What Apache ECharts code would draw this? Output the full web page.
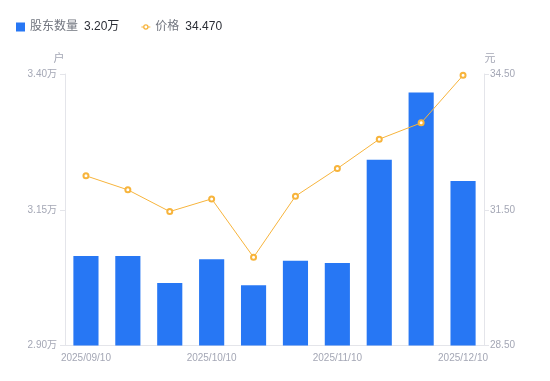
<!DOCTYPE html>
<html>
<head>
<meta charset="utf-8">
<script src="https://cdn.jsdelivr.net/npm/echarts@6/dist/echarts.min.js"></script>
<style>
html,body{margin:0;padding:0;background:#fff;}
#chart{width:550px;height:381px;}
</style>
</head>
<body>
<div id="chart"></div>
<script>
const categories = ['2025/09/10','2025/09/20','2025/09/30','2025/10/10','2025/10/20','2025/10/31','2025/11/10','2025/11/20','2025/11/30','2025/12/10'];
const holders = [3.065, 3.065, 3.015, 3.059, 3.011, 3.056, 3.052, 3.242, 3.366, 3.203];
const prices = [32.25, 31.94, 31.46, 31.74, 30.45, 31.80, 32.41, 33.06, 33.42, 34.47];
const leftTicks = {min: 2.90, max: 3.40, interval: 0.25};
const rightTicks = {min: 28.50, max: 34.50, interval: 3};

const FONT = '"Liberation Sans", "Noto Sans CJK SC", sans-serif';
const labelColor = '#a4a7b5';
const lineColor = '#e4e5ea';
const chart = echarts.init(document.getElementById('chart'), null, {renderer: 'canvas'});
const lastHolder = holders[holders.length - 1].toFixed(2) + '万';
const lastPrice = prices[prices.length - 1].toFixed(3);
const lineIcon = 'path://M0,4.5H3V5.5H0Z M7,4.5H10V5.5H7Z M5,2A3,3 0 1,1 4.99,2Z M5,3.4A1.6,1.6 0 1,0 5.01,3.4Z';

chart.setOption({
  animation: false,
  textStyle: {fontFamily: FONT},
  legend: {
    left: 11, top: 16,
    itemWidth: 9, itemHeight: 9, itemGap: 22,
    data: [{name: '股东数量', icon: 'rect'}, {name: '价格', icon: lineIcon, itemStyle: {color: '#f7b43c', borderWidth: 0}}],
    formatter: function (name) {
      const v = name === '股东数量' ? lastHolder : lastPrice;
      return '{n|' + name + '}{v|' + v + '}';
    },
    textStyle: {
      rich: {
        n: {fontSize: 12, color: '#71757f', fontFamily: FONT, padding: [0, 6, 0, 0]},
        v: {fontSize: 12, color: '#2b2e36', fontFamily: FONT}
      }
    }
  },
  grid: {left: 65, right: 66, top: 74, bottom: 35.5},
  xAxis: {
    type: 'category',
    data: categories,
    axisLine: {lineStyle: {color: lineColor}},
    axisTick: {show: false},
    axisLabel: {interval: 2, color: labelColor, fontSize: 10, margin: 8, fontFamily: FONT},
    splitLine: {show: false}
  },
  yAxis: [{
    type: 'value',
    min: leftTicks.min, max: leftTicks.max, interval: leftTicks.interval,
    name: '户',
    nameGap: 10,
    nameTextStyle: {color: labelColor, fontSize: 11, padding: [0, 12, 0, 0], fontFamily: FONT},
    axisLine: {show: true, lineStyle: {color: lineColor}},
    axisTick: {show: true, length: 5, lineStyle: {color: lineColor}},
    axisLabel: {color: labelColor, fontSize: 10, margin: 8, fontFamily: FONT,
      formatter: v => v.toFixed(2) + '万'},
    splitLine: {show: false}
  }, {
    type: 'value',
    position: 'right',
    min: rightTicks.min, max: rightTicks.max, interval: rightTicks.interval,
    name: '元',
    nameGap: 10,
    nameTextStyle: {color: labelColor, fontSize: 11, padding: [0, 0, 0, 12], fontFamily: FONT},
    axisLine: {show: true, lineStyle: {color: lineColor}},
    axisTick: {show: true, length: 5, lineStyle: {color: lineColor}},
    axisLabel: {color: labelColor, fontSize: 10, margin: 6, fontFamily: FONT,
      formatter: v => v.toFixed(2)},
    splitLine: {show: false}
  }],
  series: [{
    name: '股东数量',
    type: 'bar',
    yAxisIndex: 0,
    data: holders,
    barWidth: '60%',
    itemStyle: {color: '#2777f4'}
  }, {
    name: '价格',
    type: 'line',
    yAxisIndex: 1,
    data: prices,
    symbol: 'emptyCircle',
    symbolSize: 5,
    lineStyle: {color: '#f7b43c', width: 1},
    itemStyle: {color: '#f7b43c', borderWidth: 1.5}
  }]
});
</script>
</body>
</html>
